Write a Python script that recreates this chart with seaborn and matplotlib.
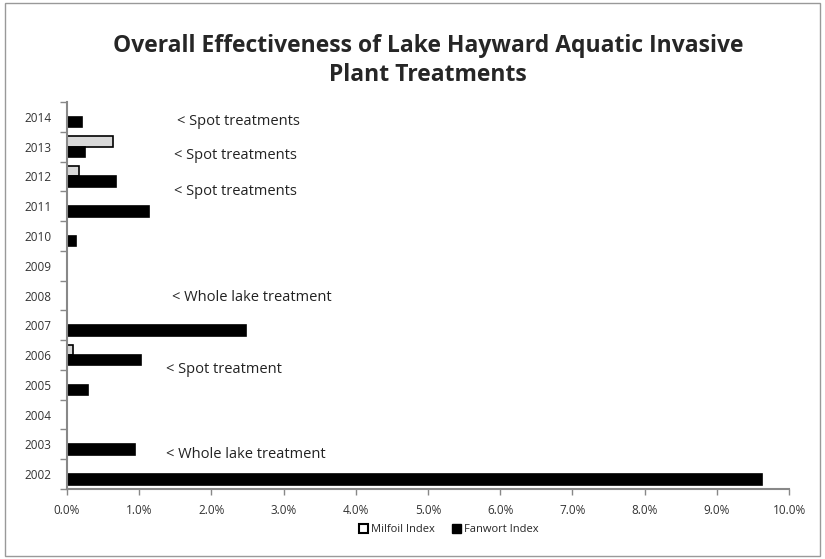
import numpy as np
import pandas as pd
import matplotlib
matplotlib.use('Agg')
import matplotlib.pyplot as plt
import seaborn as sns
from matplotlib.patches import Rectangle
from matplotlib.ticker import FixedLocator, PercentFormatter

years = [2014, 2013, 2012, 2011, 2010, 2009, 2008, 2007, 2006, 2005, 2004, 2003, 2002]
milfoil = [0.0, 0.64, 0.16, 0.0, 0.0, 0.0, 0.0, 0.0, 0.08, 0.0, 0.0, 0.0, 0.0]
fanwort = [0.21, 0.25, 0.68, 1.14, 0.13, 0.0, 0.0, 2.48, 1.02, 0.29, 0.0, 0.94, 9.63]

notes = ["< Spot treatments", "< Spot treatments", "< Spot treatments",
         "< Whole lake treatment", "< Spot treatment", "< Whole lake treatment"]
note_x = [1.52, 1.48, 1.48, 1.45, 1.37, 1.37]
note_y = [0.14, 1.31, 2.5, 6.05, 8.48, 11.35]

df = pd.DataFrame({
    'Year': [str(y) for y in years] * 2,
    'Value': milfoil + fanwort,
    'Series': ['Milfoil Index'] * len(years) + ['Fanwort Index'] * len(years),
})

sns.set_theme(style='white')
plt.rcParams['font.family'] = ['Open Sans', 'DejaVu Sans']

fig = plt.figure(figsize=(8.25, 5.59), dpi=100)
ax = fig.add_axes([0.0812, 0.1252, 0.8752, 0.6923])

sns.barplot(data=df, x='Value', y='Year', hue='Series', orient='h',
            order=[str(y) for y in years],
            hue_order=['Milfoil Index', 'Fanwort Index'],
            palette=['#d9d9d9', 'black'], edgecolor='black', linewidth=1.2,
            width=0.7, ax=ax, legend=False)

# skip drawing empty bars
for p in ax.patches:
    if p.get_width() == 0:
        p.set_visible(False)

ax.set_xlim(0, 10)
ax.set_ylim(12.5, -0.5)
ax.xaxis.set_major_locator(FixedLocator(np.arange(0, 11, 1)))
ax.xaxis.set_major_formatter(PercentFormatter(decimals=1))
ax.yaxis.set_minor_locator(FixedLocator(np.arange(-0.5, 13, 1)))
ax.tick_params(axis='y', which='major', length=0, labelsize=8.5, pad=11, labelcolor='#333333')
ax.tick_params(axis='y', which='minor', length=5, width=1, color='#888888', direction='out', left=True)
ax.tick_params(axis='x', which='major', length=4, width=1, color='#888888', direction='out',
               bottom=True, labelsize=8.5, pad=7, labelcolor='#333333')
ax.set_xlabel('')
ax.set_ylabel('')
for s in ['top', 'right']:
    ax.spines[s].set_visible(False)
for s in ['left', 'bottom']:
    ax.spines[s].set_color('#888888')
    ax.spines[s].set_linewidth(1.5)

for t, x, y in zip(notes, note_x, note_y):
    ax.text(x, y, t, fontsize=10.5, va='center', ha='left', color='#222222')

fig.text(0.519, 0.892, 'Overall Effectiveness of Lake Hayward Aquatic Invasive\nPlant Treatments',
         ha='center', va='center', fontsize=16.5, fontweight='bold', linespacing=1.3,
         family=['Open Sans', 'DejaVu Sans'])

handles = [Rectangle((0, 0), 1, 1, facecolor='white', edgecolor='black', linewidth=1.5),
           Rectangle((0, 0), 1, 1, facecolor='black', edgecolor='black')]
fig.legend(handles, ['Milfoil Index', 'Fanwort Index'], loc='center', bbox_to_anchor=(0.544, 0.052),
           ncol=2, frameon=False, fontsize=8, handlelength=0.8, handleheight=0.8,
           handletextpad=0.3, columnspacing=1.5)

fig.patches.append(Rectangle((0.006, 0.006), 0.988, 0.988, transform=fig.transFigure,
                             fill=False, edgecolor='#999999', linewidth=1))

fig.savefig('out.png', dpi=100)
